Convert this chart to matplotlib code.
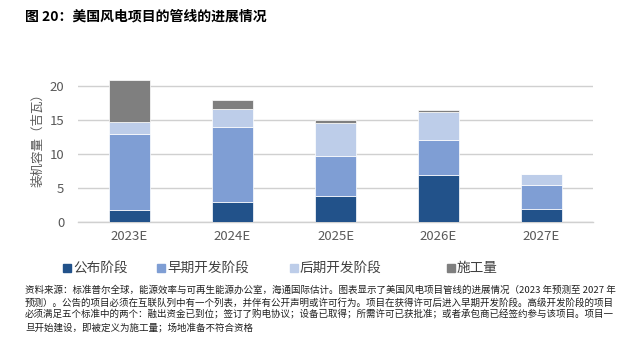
import matplotlib.pyplot as plt
import numpy as np
from matplotlib.patches import Rectangle

plt.rcParams['font.family'] = ['Noto Sans CJK SC', 'DejaVu Sans']

years = ["2023E", "2024E", "2025E", "2026E", "2027E"]
series_names = ["公布阶段", "早期开发阶段", "后期开发阶段", "施工量"]
announced = [1.7, 2.9, 3.9, 6.9, 1.9]
early_dev = [11.2, 11.0, 5.8, 5.2, 3.6]
late_dev = [1.8, 2.7, 4.8, 4.1, 1.6]
construction = [6.1, 1.3, 0.5, 0.3, 0.0]
yticks = [0, 5, 10, 15, 20]

title = "图 20：美国风电项目的管线的进展情况"
ylabel = "装机容量（吉瓦）"
note_lines = [
    "资料来源：标准普尔全球，能源效率与可再生能源办公室，海通国际估计。图表显示了美国风电项目管线的进展情况（2023 年预测至 2027 年",
    "预测）。公告的项目必须在互联队列中有一个列表，并伴有公开声明或许可行为。项目在获得许可后进入早期开发阶段。高级开发阶段的项目",
    "必须满足五个标准中的两个：融出资金已到位；签订了购电协议；设备已取得；所需许可已获批准；或者承包商已经签约参与该项目。项目一",
    "旦开始建设，即被定义为施工量；场地准备不符合资格",
]

colors = ["#22528a", "#7f9ed4", "#bdcde9", "#7f7f7f"]
gray_text = "#595959"

fig = plt.figure(figsize=(6.35, 3.47), dpi=100)
ax = fig.add_axes([0.123, 0.36, 0.811, 0.491])

x = np.arange(len(years))
bottom = np.zeros(len(years))
for vals, col in zip([announced, early_dev, late_dev, construction], colors):
    ax.bar(x, vals, 0.4, bottom=bottom, color=col, edgecolor="white",
           linewidth=0.5, zorder=3)
    bottom += np.array(vals)

ax.set_xlim(-0.5, len(years) - 0.5)
ax.set_ylim(0, 25)
ax.set_yticks(yticks)
ax.set_xticks(x)
ax.set_xticklabels(years)
ax.yaxis.grid(True, color="#d0d0d0", linewidth=1, zorder=0)
ax.tick_params(length=0, labelsize=9.5, colors=gray_text, pad=6)
ax.tick_params(axis="y", pad=10)
for s in ["top", "right", "left"]:
    ax.spines[s].set_visible(False)
ax.spines["bottom"].set_color("#d0d0d0")
ax.spines["bottom"].set_linewidth(1)
ax.set_ylabel(ylabel, fontsize=9, color=gray_text, labelpad=4)

# title
fig.text(25 / 635, 1 - 16 / 347, title, fontsize=10, fontweight="bold",
         va="center", ha="left")

# legend, placed like the original
leg_x = [63, 157, 290, 447]
leg_y = 1 - 268 / 347
for lx, name, col in zip(leg_x, series_names, colors):
    fig.patches.append(Rectangle((lx / 635, leg_y - 4 / 347), 8 / 635, 8 / 347,
                                 transform=fig.transFigure, color=col))
    fig.text((lx + 10) / 635, leg_y, name, fontsize=9.8, color="#404040",
             va="center", ha="left")

# note
for i, line in enumerate(note_lines):
    fig.text(25 / 635, 1 - (290 + i * 12.5) / 347, line, fontsize=6.85,
             color="#202020", va="center", ha="left")

fig.savefig("out.png", dpi=100)
